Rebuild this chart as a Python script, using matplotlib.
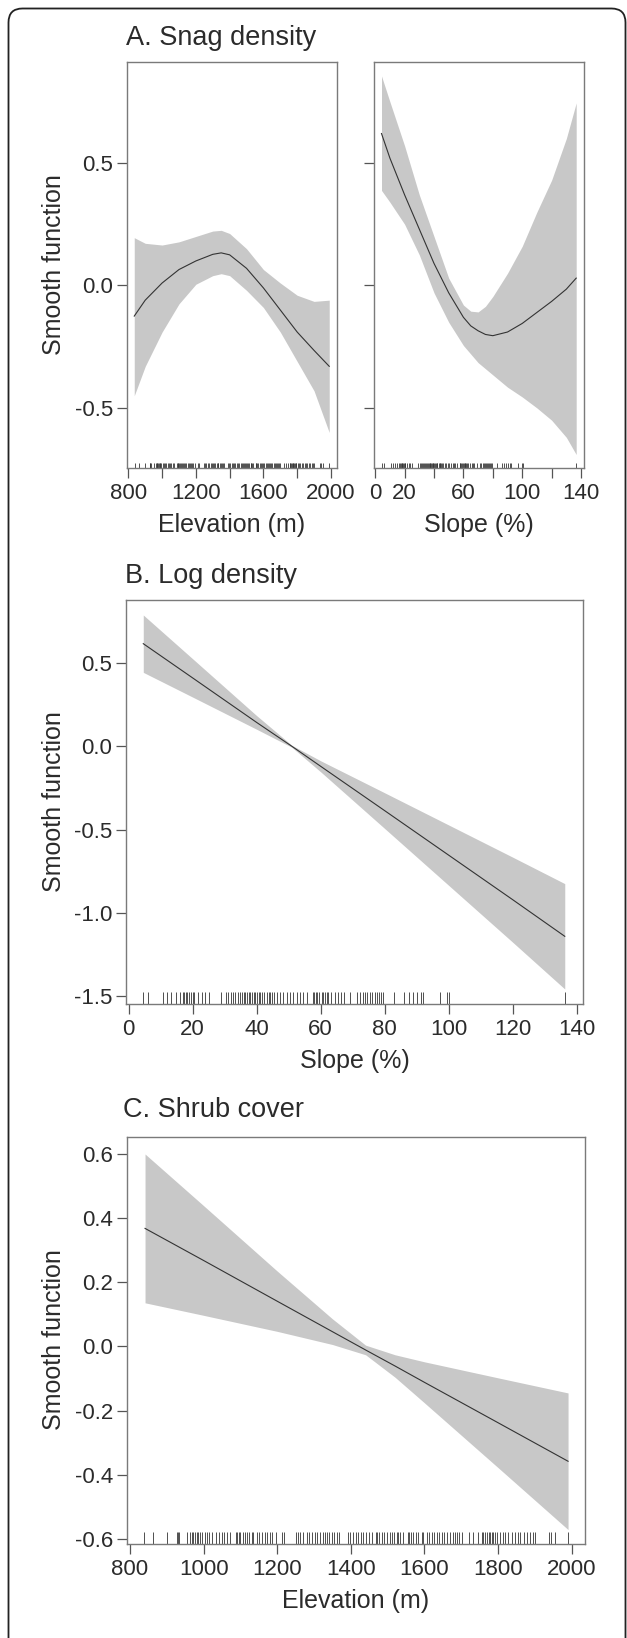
import matplotlib
matplotlib.use('Agg')
import matplotlib.pyplot as plt
from matplotlib.patches import FancyBboxPatch
from matplotlib.transforms import IdentityTransform

plt.rcParams['font.family'] = ['Liberation Sans', 'DejaVu Sans']

# ---- data ----
# A. Snag density, elevation term
elev_a = [835, 900, 1000, 1100, 1200, 1300, 1350, 1400, 1500, 1600, 1700, 1800, 1900, 1990]
fit_a1 = [-0.125, -0.06, 0.01, 0.065, 0.10, 0.127, 0.133, 0.125, 0.07, -0.01, -0.10, -0.19, -0.265, -0.33]
up_a1 = [0.195, 0.172, 0.165, 0.178, 0.20, 0.222, 0.225, 0.212, 0.15, 0.065, 0.01, -0.04, -0.065, -0.06]
lo_a1 = [-0.45, -0.33, -0.19, -0.075, 0.005, 0.04, 0.048, 0.04, -0.02, -0.09, -0.19, -0.31, -0.43, -0.60]

# A. Snag density, slope term
slope_a = [4.3, 10, 20, 30, 40, 50, 60, 65, 70, 75, 80, 90, 100, 110, 120, 130, 136.7]
fit_a2 = [0.62, 0.52, 0.37, 0.23, 0.09, -0.03, -0.13, -0.165, -0.185, -0.2, -0.205, -0.19, -0.155,
          -0.11, -0.065, -0.015, 0.03]
up_a2 = [0.855, 0.75, 0.57, 0.37, 0.20, 0.03, -0.08, -0.105, -0.108, -0.085, -0.045, 0.05, 0.16,
         0.30, 0.43, 0.60, 0.745]
lo_a2 = [0.388, 0.34, 0.25, 0.125, -0.03, -0.15, -0.245, -0.28, -0.315, -0.34, -0.365, -0.415,
         -0.455, -0.50, -0.55, -0.62, -0.69]

# B. Log density, slope term
slope_b = [4.6, 20, 40, 51, 60, 80, 100, 120, 136.3]
fit_b = [0.615, 0.41, 0.143, 0.0, -0.12, -0.386, -0.653, -0.92, -1.14]
up_b = [0.787, 0.525, 0.184, 0.006, -0.087, -0.279, -0.472, -0.665, -0.824]
lo_b = [0.443, 0.295, 0.102, -0.006, -0.153, -0.493, -0.834, -1.175, -1.456]

# C. Shrub cover, elevation term
elev_c = [841, 1000, 1200, 1350, 1440, 1520, 1600, 1800, 1990]
fit_c = [0.368, 0.268, 0.141, 0.046, -0.011, -0.061, -0.112, -0.238, -0.358]
up_c = [0.600, 0.439, 0.235, 0.086, 0.004, -0.026, -0.048, -0.098, -0.145]
lo_c = [0.136, 0.097, 0.047, 0.006, -0.026, -0.096, -0.176, -0.378, -0.571]

# rug positions (observed plots)
elev_rug = [838, 863, 901, 929, 931, 934, 954, 963, 968, 972, 977, 981, 986, 990, 995, 1004, 1010,
            1016, 1022, 1035, 1043, 1049, 1055, 1064, 1072, 1088, 1092, 1095, 1099, 1106, 1112, 1117,
            1124, 1131, 1135, 1144, 1151, 1160, 1167, 1171, 1180, 1185, 1197, 1212, 1218, 1251, 1257,
            1262, 1271, 1280, 1287, 1294, 1303, 1309, 1316, 1325, 1330, 1334, 1342, 1348, 1354, 1362,
            1369, 1391, 1398, 1405, 1414, 1420, 1427, 1434, 1441, 1448, 1457, 1468, 1472, 1477, 1484,
            1490, 1497, 1505, 1511, 1517, 1525, 1529, 1534, 1541, 1554, 1559, 1563, 1570, 1577, 1583,
            1592, 1597, 1606, 1613, 1620, 1626, 1633, 1640, 1647, 1653, 1660, 1669, 1677, 1683, 1689,
            1695, 1701, 1722, 1733, 1746, 1756, 1760, 1765, 1769, 1774, 1778, 1783, 1787, 1792, 1796,
            1805, 1813, 1819, 1828, 1837, 1846, 1855, 1860, 1869, 1878, 1887, 1894, 1900, 1937, 1943,
            1955, 1989]
slope_rug = [4.5, 6, 10.7, 12, 13.2, 14.8, 16.1, 16.9, 17.4, 17.9, 18.4, 19, 19.5, 20, 20.5, 21.7,
             23.1, 23.8, 25.1, 28.8, 30.6, 31, 31.9, 32.7, 33.4, 34.2, 34.8, 35.5, 36, 36.5, 37.1,
             37.6, 38.1, 38.6, 39.1, 39.6, 40.2, 40.7, 41.2, 41.7, 42.2, 43.3, 43.8, 44.3, 44.8, 45.3,
             46.4, 47.4, 48.4, 49.5, 50.5, 51.5, 52.6, 53.6, 54.6, 55.7, 57.5, 58, 58.6, 59, 59.6,
             60.3, 60.8, 61.4, 61.9, 62.4, 63.4, 64.5, 65.5, 66.5, 67.3, 69.1, 71.4, 72.2, 73.1, 73.8,
             74.5, 75.3, 76.2, 76.9, 77.6, 78.2, 78.9, 79.5, 82.8, 86.2, 87.5, 88.8, 90, 91.4, 92.1,
             97.3, 99.6, 100.2, 136.4]

# ---- styling ----
W, H = 627, 1638
TXT = '#2b2b2b'
BOX = '#7a7a7a'
BAND = '#c8c8c8'
LINE = '#333333'
TICK_FS = 16
LAB_FS = 18

fig = plt.figure(figsize=(W / 100, H / 100), dpi=100)


def px_axes(left, top, right, bottom):
    return fig.add_axes([left / W, 1 - bottom / H, (right - left) / W, (bottom - top) / H])


def smooth_panel(ax, x, fit, up, lo, rug, rug_len, xlim, ylim):
    ax.fill_between(x, lo, up, color=BAND, linewidth=0)
    ax.plot(x, fit, color=LINE, linewidth=0.8)
    ax.vlines(rug, 0, rug_len, transform=ax.get_xaxis_transform(), color=LINE, linewidth=0.6)
    ax.set_xlim(*xlim)
    ax.set_ylim(*ylim)
    for sp in ax.spines.values():
        sp.set_color(BOX)
        sp.set_linewidth(1.0)
    ax.tick_params(direction='out', length=7, width=0.9, color='#555555',
                   labelcolor=TXT, labelsize=TICK_FS)
    ax.tick_params(axis='x', pad=4)
    ax.tick_params(axis='y', pad=3)


def set_ticks(ax, axis, values, labels):
    if axis == 'x':
        ax.set_xticks(values)
        ax.set_xticklabels(labels)
    else:
        ax.set_yticks(values)
        ax.set_yticklabels(labels)


elev_lim = (792, 2036)
slope_lim = (-0.8, 142)

# Panel A
ax1 = px_axes(127, 62, 337, 468)
smooth_panel(ax1, elev_a, fit_a1, up_a1, lo_a1, elev_rug, 0.012, elev_lim, (-0.745, 0.912))
set_ticks(ax1, 'x', [800, 1000, 1200, 1400, 1600, 1800, 2000],
          ['800', '', '1200', '', '1600', '', '2000'])
set_ticks(ax1, 'y', [-0.5, 0.0, 0.5], ['-0.5', '0.0', '0.5'])

ax2 = px_axes(374, 62, 584, 468)
smooth_panel(ax2, slope_a, fit_a2, up_a2, lo_a2, slope_rug, 0.012, slope_lim, (-0.745, 0.912))
set_ticks(ax2, 'x', [0, 20, 40, 60, 80, 100, 120, 140],
          ['0', '20', '', '60', '', '100', '', '140'])
set_ticks(ax2, 'y', [-0.5, 0.0, 0.5], ['', '', ''])

# Panel B
ax3 = px_axes(126, 600, 583, 1004)
smooth_panel(ax3, slope_b, fit_b, up_b, lo_b, slope_rug, 0.03, slope_lim, (-1.546, 0.877))
set_ticks(ax3, 'x', [0, 20, 40, 60, 80, 100, 120, 140],
          ['0', '20', '40', '60', '80', '100', '120', '140'])
set_ticks(ax3, 'y', [-1.5, -1.0, -0.5, 0.0, 0.5], ['-1.5', '-1.0', '-0.5', '0.0', '0.5'])

# Panel C
ax4 = px_axes(127, 1137, 585, 1544)
smooth_panel(ax4, elev_c, fit_c, up_c, lo_c, elev_rug, 0.03, elev_lim, (-0.616, 0.653))
set_ticks(ax4, 'x', [800, 1000, 1200, 1400, 1600, 1800, 2000],
          ['800', '1000', '1200', '1400', '1600', '1800', '2000'])
set_ticks(ax4, 'y', [-0.6, -0.4, -0.2, 0.0, 0.2, 0.4, 0.6],
          ['-0.6', '-0.4', '-0.2', '0.0', '0.2', '0.4', '0.6'])


def ftext(x, y, s, **kw):
    fig.text(x / W, 1 - y / H, s, color=TXT, **kw)


# titles
ftext(126, 45, 'A. Snag density', fontsize=19.5, ha='left', va='baseline')
ftext(125, 583, 'B. Log density', fontsize=19.5, ha='left', va='baseline')
ftext(123, 1117, 'C. Shrub cover', fontsize=19.5, ha='left', va='baseline')

# axis labels
ftext(232, 525, 'Elevation (m)', fontsize=LAB_FS, ha='center', va='center')
ftext(479, 525, 'Slope (%)', fontsize=LAB_FS, ha='center', va='center')
ftext(355, 1061, 'Slope (%)', fontsize=LAB_FS, ha='center', va='center')
ftext(356, 1601, 'Elevation (m)', fontsize=LAB_FS, ha='center', va='center')
for yc in (265, 802, 1340):
    ftext(54, yc, 'Smooth function', fontsize=LAB_FS, ha='center', va='center', rotation=90)

# outer rounded frame (open at the bottom edge of the page)
frame = FancyBboxPatch((8.5, -40), 617, 1638 - 8.5 + 40,
                       boxstyle='round,pad=0,rounding_size=14',
                       transform=IdentityTransform(), fill=False,
                       edgecolor='#222222', linewidth=1.3)
fig.patches.append(frame)

fig.savefig('out.png', dpi=100)
